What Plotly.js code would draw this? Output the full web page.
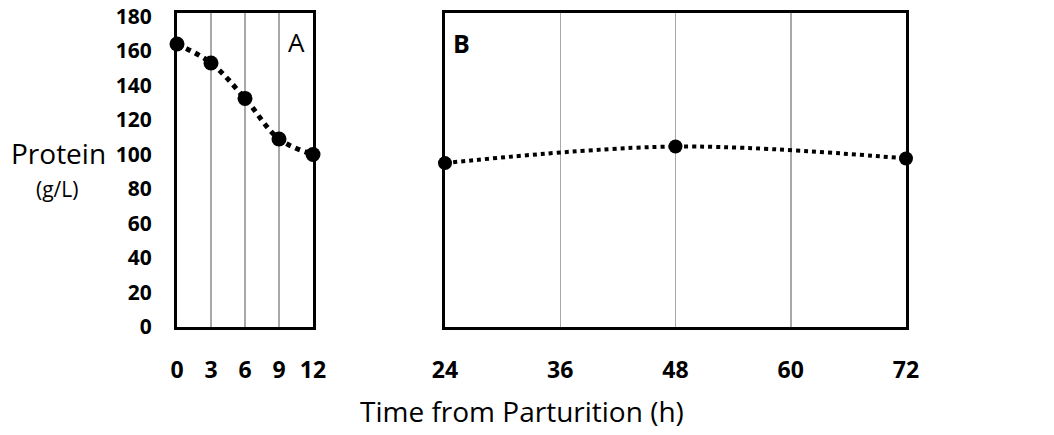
<!DOCTYPE html>
<html><head><meta charset="utf-8">
<script src="https://cdn.plot.ly/plotly-3.0.1.min.js"></script>
<style>html,body{margin:0;padding:0;background:#fff}#chart{width:1054px;height:435px}</style>
</head><body><div id="chart"></div>
<script>
const hoursA = [0, 3, 6, 9, 12];
const proteinA = [164, 153, 132.5, 109, 100];
const hoursB = [24, 48, 72];
const proteinB = [95, 104.6, 97.7];
const yTicks = [0, 20, 40, 60, 80, 100, 120, 140, 160, 180];
const xTicksA = [0, 3, 6, 9, 12];
const xTicksB = [24, 36, 48, 60, 72];

const FONT = '"Open Sans", Lato, sans-serif';
const yTickFont = {family: FONT, size: 21, color: '#000', weight: 'bold'};
const xTickFont = {family: FONT, size: 23, color: '#000', weight: 'bold'};

const traces = [
  {x: hoursA, y: proteinA, xaxis: 'x', yaxis: 'y', mode: 'lines+markers', type: 'scatter',
   line: {shape: 'spline', dash: 'dot', width: 5, color: '#000'},
   marker: {size: 15, color: '#000'}, cliponaxis: false},
  {x: hoursB, y: proteinB, xaxis: 'x2', yaxis: 'y2', mode: 'lines+markers', type: 'scatter',
   line: {shape: 'spline', dash: 'dot', width: 4, color: '#000'},
   marker: {size: 14, color: '#000'}, cliponaxis: false}
];

const axisCommon = {showline: true, mirror: true, linecolor: '#000', linewidth: 3, zeroline: false, fixedrange: true};

const layout = {
  width: 1054, height: 435,
  margin: {l: 0, r: 0, t: 0, b: 0},
  paper_bgcolor: '#fff', plot_bgcolor: '#fff',
  showlegend: false,
  xaxis: Object.assign({}, axisCommon, {domain: [177/1054, 313/1054], range: [0, 12], tickvals: xTicksA,
    showgrid: true, gridcolor: '#a8a8a8', gridwidth: 1.5, tickfont: xTickFont, ticks: '', ticklabelstandoff: 20, anchor: 'y'}),
  yaxis: Object.assign({}, axisCommon, {domain: [1 - 327/435, 1 - 13/435], range: [0, 182], tickvals: yTicks,
    showgrid: false, tickfont: yTickFont, ticks: '', ticklabelstandoff: 18, anchor: 'x'}),
  xaxis2: Object.assign({}, axisCommon, {domain: [445/1054, 906/1054], range: [24, 72], tickvals: xTicksB,
    showgrid: true, gridcolor: '#a8a8a8', gridwidth: 1.5, tickfont: xTickFont, ticks: '', ticklabelstandoff: 20, anchor: 'y2'}),
  yaxis2: Object.assign({}, axisCommon, {domain: [1 - 327/435, 1 - 13/435], range: [0, 182],
    showgrid: false, showticklabels: false, ticks: '', anchor: 'x2'}),
  annotations: [
    {text: 'A', xref: 'paper', yref: 'paper', x: 296/1054, y: 1 - 42/435, showarrow: false,
     font: {family: FONT, size: 26, color: '#000', weight: 500}, xanchor: 'center', yanchor: 'middle'},
    {text: '<b>B</b>', xref: 'paper', yref: 'paper', x: 461/1054, y: 1 - 43/435, showarrow: false,
     font: {family: FONT, size: 25, color: '#000'}, xanchor: 'center', yanchor: 'middle'},
    {text: 'Protein', xref: 'paper', yref: 'paper', x: 58/1054, y: 1 - 153/435, showarrow: false,
     font: {family: FONT, size: 28, color: '#000', weight: 500}, xanchor: 'center', yanchor: 'middle'},
    {text: '(g/L)', xref: 'paper', yref: 'paper', x: 57/1054, y: 1 - 189/435, showarrow: false,
     font: {family: FONT, size: 21, color: '#000', weight: 500}, xanchor: 'center', yanchor: 'middle'},
    {text: 'Time from Parturition (h)', xref: 'paper', yref: 'paper', x: 522/1054, y: 1 - 411/435, showarrow: false,
     font: {family: FONT, size: 28, color: '#000', weight: 500}, xanchor: 'center', yanchor: 'middle'}
  ]
};

Plotly.newPlot('chart', traces, layout, {displayModeBar: false, staticPlot: true});
</script></body></html>
